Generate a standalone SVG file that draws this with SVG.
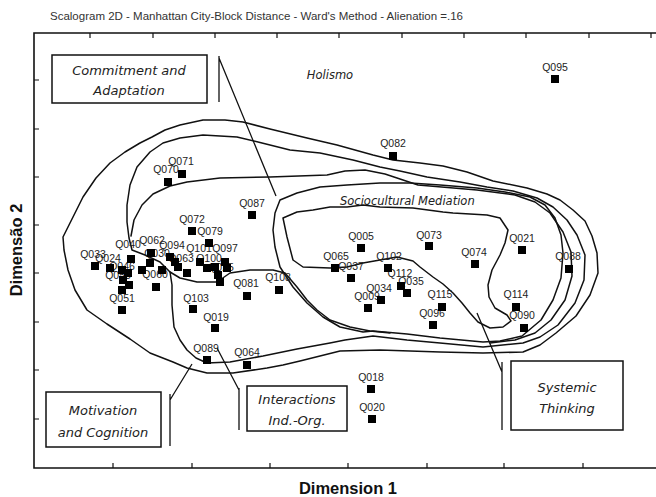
<svg xmlns="http://www.w3.org/2000/svg" width="656" height="497" viewBox="0 0 656 497">
  <style>
    .axis { stroke: #111; stroke-width: 1.6; fill: none; }
    .tick { stroke: #111; stroke-width: 1.2; }
    .contour { stroke: #111; stroke-width: 1.5; fill: none; stroke-linejoin: round; stroke-linecap: round; }
    .pointer { stroke: #111; stroke-width: 1.3; fill: none; }
    .box { stroke: #111; stroke-width: 1.5; fill: #fff; }
    .boxtext { font-family: "DejaVu Sans", "Liberation Sans", sans-serif; font-style: italic; font-size: 13px; fill: #222; text-anchor: middle; }
    .region { font-family: "DejaVu Sans", "Liberation Sans", sans-serif; font-style: italic; font-size: 11.5px; fill: #222; }
    .lbl { font-family: "Liberation Sans", Arial, sans-serif; font-size: 10.5px; fill: #222; text-anchor: middle; }
    .pt { fill: #000; }
    .title { font-family: "Liberation Sans", Arial, sans-serif; font-size: 11.5px; fill: #333; }
    .axlabel { font-family: "Liberation Sans", Arial, sans-serif; font-size: 16.5px; font-weight: bold; fill: #111; text-anchor: middle; }
  </style>
  <defs>
    <rect id="sq" x="-4" y="-4" width="8" height="8" class="pt"/>
  </defs>

  <rect width="656" height="497" fill="#fff"/>

  <!-- title -->
  <text class="title" x="50" y="20" textLength="413" lengthAdjust="spacingAndGlyphs">Scalogram 2D - Manhattan City-Block Distance - Ward's Method - Alienation =.16</text>

  <!-- frame and ticks -->
  <g id="axes">
    <path class="axis" d="M656,33 L34,33 L34,468 L656,468"/>
    <path class="tick" d="M90,33v5M153,33v5M215,33v5M277,33v5M339,33v5M402,33v5M464,33v5M526,33v5M589,33v5M651,33v5"/>
    <path class="tick" d="M113,468v-5M192,468v-5M270,468v-5M348,468v-5M427,468v-5M504,468v-5M583,468v-5"/>
    <path class="tick" d="M34,80h5M34,129h5M34,177h5M34,225h5M34,273h5M34,322h5M34,370h5M34,419h5"/>
    <text class="axlabel" x="348" y="494">Dimension 1</text>
    <text class="axlabel" transform="translate(22,250) rotate(-90)">Dimensão 2</text>
  </g>

  <!-- cluster outlines -->
  <g id="contours">
    <path class="contour" d="M140,143 L152,137 L165,130 L180,125 L203,120 L225,120 L243,122 L270,129 L307,138 L337,145 L373,155 L393,160 L420,163 L443,166 L467,172 L493,181 L527,188 L547,194 L560,200 L573,210 L585,221 L592,236 L597,253 L598,273 L590,295 L576,316 L556,333 L540,345 L523,352 L483,353 L440,352 L380,350 L340,351 L300,361 L283,365 L267,368 L233,373 L207,373 L187,368 L173,362 L150,353 L130,339 L107,324 L87,310 L75,290 L68,270 L64,250 L63,237 L70,223 L83,197 L96,178 L110,163 L125,152 Z"/>
    <path class="contour" d="M132,250 L129,238 L127,222 L127,205 L130,185 L137,167 L150,152 L163,143 L180,138 L203,135 L237,137 L262,143 L290,150 L320,153 L353,160 L380,167 L400,171 L427,177 L460,182 L487,187 L513,191 L537,198 L553,207 L567,220 L577,235 L585,255 L584,280 L575,303 L558,325 L540,337 L523,343 L483,347 L440,343 L407,340 L373,336 L345,340 L330,343 L297,349 L263,356 L230,362 L207,363 L196,358 L187,350 L180,340 L174,327 L172,305 L172,285 L170,272 L160,262 L145,255 Z"/>
    <path class="contour" d="M131,236 L134,220 L142,205 L153,194 L170,186 L187,182 L220,178 L270,177 L327,175 L345,171 L365,170 L385,174 L400,179 L418,185 L477,190 L515,195 L535,202 L550,213 L563,232 L571,252 L572,276 L565,300 L551,320 L535,333 L515,340 L490,343"/>
    <path class="contour" d="M280,200 L297,193 L320,187 L347,185 L380,183 L410,183 L440,185 L477,188 L505,192 L530,197 L545,205 L555,218 L561,235 L563,253 L561,278 L553,300 L541,320 L522,336 L500,341 L483,342 L440,338 L407,334 L373,331 L363,332 L340,327 L323,317 L307,303 L293,287 L280,267 L275,247 L273,230 L275,213 Z"/>
    <path class="contour" d="M283,218 L297,212 L313,210 L330,207 L347,207 L363,205 L380,207 L413,208 L443,212 L453,213 L487,215 L500,218 L508,230 L505,243 L500,255 L492,270 L488,285 L489,297 L495,308 L507,315 L511,321 L503,327 L490,328 L478,322 L470,313 L462,303 L453,293 L443,284 L433,277 L420,267 L413,261 L397,257 L380,260 L363,263 L347,267 L330,268 L303,267 L293,260 L287,237 Z"/>
    <path class="contour" d="M170,272 L180,278 L197,282 L217,282 L230,273 L250,270 L273,270 L285,273 L297,287 L307,300 L317,310 L330,320 L350,327 L370,331 L390,333"/>
  </g>

  <!-- region names -->
  <text class="region" x="330" y="79" text-anchor="middle" font-size="10">Holismo</text>
  <text class="region" x="340" y="205">Sociocultural Mediation</text>

  <!-- labelled boxes with leader lines -->
  <g id="commitment">
    <rect class="box" x="52" y="55" width="155" height="48"/>
    <text class="boxtext" x="129" y="75">Commitment and</text>
    <text class="boxtext" x="129" y="95">Adaptation</text>
    <path class="pointer" d="M219,56 L219,102 M219,58 L276,196"/>
  </g>
  <g id="motivation">
    <rect class="box" x="46" y="392" width="115" height="55"/>
    <text class="boxtext" x="103" y="415">Motivation</text>
    <text class="boxtext" x="103" y="437">and Cognition</text>
    <path class="pointer" d="M170,394 L170,446 M170,400 L192,364"/>
  </g>
  <g id="interactions">
    <rect class="box" x="247" y="386" width="100" height="45"/>
    <text class="boxtext" x="297" y="404">Interactions</text>
    <text class="boxtext" x="297" y="425">Ind.-Org.</text>
    <path class="pointer" d="M239,388 L239,430 M239,390 L217,348"/>
  </g>
  <g id="systemic">
    <rect class="box" x="511" y="361" width="112" height="69"/>
    <text class="boxtext" x="567" y="392">Systemic</text>
    <text class="boxtext" x="567" y="413">Thinking</text>
    <path class="pointer" d="M502,362 L502,430 M502,372 L477,313"/>
  </g>

  <!-- item labels -->
  <g id="labels">
    <text class="lbl" x="555" y="71">Q095</text>
    <text class="lbl" x="393" y="147">Q082</text>
    <text class="lbl" x="166" y="173">Q070</text>
    <text class="lbl" x="181" y="165">Q071</text>
    <text class="lbl" x="252" y="207">Q087</text>
    <text class="lbl" x="192" y="223">Q072</text>
    <text class="lbl" x="210" y="235">Q079</text>
    <text class="lbl" x="361" y="240">Q005</text>
    <text class="lbl" x="429" y="239">Q073</text>
    <text class="lbl" x="474" y="256">Q074</text>
    <text class="lbl" x="522" y="242">Q021</text>
    <text class="lbl" x="568" y="260">Q088</text>
    <text class="lbl" x="336" y="260">Q065</text>
    <text class="lbl" x="351" y="270">Q037</text>
    <text class="lbl" x="389" y="260">Q102</text>
    <text class="lbl" x="400" y="277">Q112</text>
    <text class="lbl" x="411" y="285">Q035</text>
    <text class="lbl" x="367" y="300">Q009</text>
    <text class="lbl" x="379" y="292">Q034</text>
    <text class="lbl" x="440" y="298">Q115</text>
    <text class="lbl" x="432" y="317">Q096</text>
    <text class="lbl" x="516" y="298">Q114</text>
    <text class="lbl" x="522" y="319">Q090</text>
    <text class="lbl" x="246" y="287">Q081</text>
    <text class="lbl" x="278" y="281">Q108</text>
    <text class="lbl" x="196" y="302">Q103</text>
    <text class="lbl" x="216" y="321">Q019</text>
    <text class="lbl" x="206" y="352">Q089</text>
    <text class="lbl" x="247" y="356">Q064</text>
    <text class="lbl" x="371" y="381">Q018</text>
    <text class="lbl" x="372" y="411">Q020</text>
    <text class="lbl" x="155" y="278">Q060</text>
    <text class="lbl" x="122" y="302">Q051</text>
    <!-- dense group on the left -->
    <text class="lbl" x="93" y="258">Q033</text>
    <text class="lbl" x="128" y="248">Q040</text>
    <text class="lbl" x="152" y="244">Q062</text>
    <text class="lbl" x="172" y="249">Q094</text>
    <text class="lbl" x="199" y="252">Q101</text>
    <text class="lbl" x="225" y="252">Q097</text>
    <text class="lbl" x="108" y="262">Q024</text>
    <text class="lbl" x="122" y="270">Q046</text>
    <text class="lbl" x="118" y="279">Q053</text>
    <text class="lbl" x="157" y="257">Q030</text>
    <text class="lbl" x="181" y="262">Q063</text>
    <text class="lbl" x="209" y="262">Q100</text>
    <text class="lbl" x="221" y="271">Q025</text>
  </g>

  <!-- item markers -->
  <g id="points">
    <use href="#sq" x="555" y="79"/>
    <use href="#sq" x="393" y="156"/>
    <use href="#sq" x="182" y="174"/>
    <use href="#sq" x="168" y="182"/>
    <use href="#sq" x="252" y="215"/>
    <use href="#sq" x="192" y="231"/>
    <use href="#sq" x="209" y="243"/>
    <use href="#sq" x="361" y="248"/>
    <use href="#sq" x="429" y="246"/>
    <use href="#sq" x="475" y="264"/>
    <use href="#sq" x="522" y="250"/>
    <use href="#sq" x="569" y="269"/>
    <use href="#sq" x="335" y="268"/>
    <use href="#sq" x="351" y="278"/>
    <use href="#sq" x="388" y="268"/>
    <use href="#sq" x="401" y="286"/>
    <use href="#sq" x="407" y="293"/>
    <use href="#sq" x="381" y="300"/>
    <use href="#sq" x="368" y="308"/>
    <use href="#sq" x="442" y="307"/>
    <use href="#sq" x="433" y="325"/>
    <use href="#sq" x="516" y="307"/>
    <use href="#sq" x="524" y="328"/>
    <use href="#sq" x="247" y="296"/>
    <use href="#sq" x="279" y="290"/>
    <use href="#sq" x="193" y="309"/>
    <use href="#sq" x="215" y="328"/>
    <use href="#sq" x="207" y="360"/>
    <use href="#sq" x="247" y="365"/>
    <use href="#sq" x="371" y="389"/>
    <use href="#sq" x="372" y="419"/>
    <use href="#sq" x="156" y="287"/>
    <use href="#sq" x="122" y="310"/>
    <use href="#sq" x="95" y="266"/>
    <use href="#sq" x="131" y="259"/>
    <use href="#sq" x="151" y="253"/>
    <use href="#sq" x="170" y="257"/>
    <use href="#sq" x="200" y="262"/>
    <use href="#sq" x="225" y="262"/>
    <use href="#sq" x="110" y="268"/>
    <use href="#sq" x="122" y="270"/>
    <use href="#sq" x="128" y="273"/>
    <use href="#sq" x="123" y="280"/>
    <use href="#sq" x="129" y="285"/>
    <use href="#sq" x="122" y="290"/>
    <use href="#sq" x="142" y="270"/>
    <use href="#sq" x="150" y="263"/>
    <use href="#sq" x="162" y="270"/>
    <use href="#sq" x="175" y="262"/>
    <use href="#sq" x="178" y="267"/>
    <use href="#sq" x="187" y="273"/>
    <use href="#sq" x="207" y="268"/>
    <use href="#sq" x="215" y="267"/>
    <use href="#sq" x="218" y="275"/>
    <use href="#sq" x="220" y="282"/>
    <use href="#sq" x="227" y="268"/>
  </g>
</svg>
